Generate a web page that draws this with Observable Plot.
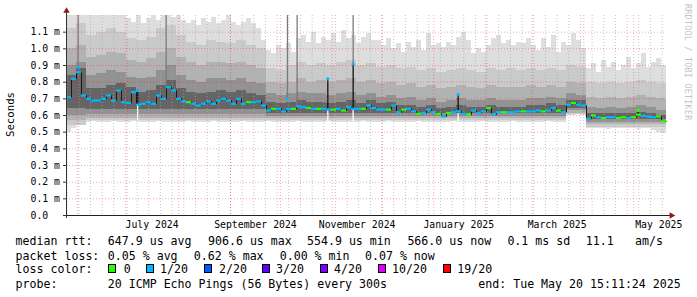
<!DOCTYPE html>
<html><head><meta charset="utf-8">
<script src="https://cdn.jsdelivr.net/npm/d3@7"></script>
<script src="https://cdn.jsdelivr.net/npm/@observablehq/plot@0.6"></script>
<style>
html,body{margin:0;padding:0;background:#fff;}
#chart{position:relative;width:697px;height:297px;overflow:hidden;font-family:"DejaVu Sans Mono",monospace;background:#fff;}
#chart svg{position:absolute;left:0;top:0;}
.lg{position:absolute;font-size:11.6px;line-height:14px;height:14px;white-space:pre;color:#000;}
.box{position:absolute;width:8px;height:9px;box-sizing:border-box;border:1px solid #000;}
.ylab{position:absolute;font-size:10.7px;line-height:12px;writing-mode:vertical-rl;transform:rotate(180deg);color:#000;}
.wm{position:absolute;font-size:8.3px;line-height:9px;writing-mode:vertical-rl;color:#c4c4c4;letter-spacing:0.3px;}
</style></head><body><div id="chart"></div>
<script>
// ---- time frame (rrdtool: 360 days ending at "end") ----
const startTime = "2024-05-25T15:11:24Z";
const endTime = "2025-05-20T15:11:24Z";

// ---- 3-day bins: median RTT (ms), loss colour index, max and min ping (ms) ----
const median = [
0.71,0.82,0.86,0.72,0.70,0.69,0.69,0.70,0.72,0.69,
0.75,0.68,0.675,0.74,0.665,0.67,0.68,0.67,0.72,0.70,
0.77,0.75,0.70,0.685,0.68,0.67,0.66,0.67,0.685,0.67,
0.69,0.70,0.69,0.67,0.70,0.67,0.68,0.68,0.685,0.66,
0.63,0.64,0.64,0.625,0.64,0.64,0.655,0.65,0.645,0.64,
0.64,0.64,0.635,0.635,0.64,0.63,0.65,0.64,0.64,0.64,
0.66,0.645,0.636,0.636,0.635,0.66,0.62,0.635,0.64,0.625,
0.61,0.615,0.635,0.62,0.61,0.595,0.615,0.62,0.625,0.61,
0.606,0.63,0.615,0.625,0.645,0.606,0.62,0.62,0.62,0.62,
0.625,0.625,0.625,0.625,0.63,0.625,0.63,0.645,0.63,0.62,
0.665,0.675,0.665,0.66,0.58,0.60,0.59,0.585,0.59,0.59,
0.585,0.59,0.585,0.59,0.605,0.598,0.594,0.59,0.595,0.565];
const loss = [
1,1,1,1,1,1,1,1,1,1,
1,1,1,1,1,1,1,1,1,1,
1,1,1,1,0,1,1,1,1,1,
1,1,1,1,1,1,0,1,1,1,
1,0,1,1,1,0,1,1,0,1,
0,1,1,0,1,0,1,1,1,0,
1,1,1,1,0,1,1,0,1,1,
0,1,1,1,0,1,0,1,1,1,
0,1,1,1,0,1,1,0,1,1,
1,0,1,1,1,0,1,1,0,1,
1,0,1,1,1,0,1,0,1,1,
0,0,1,0,0,1,1,1,0,0];
const pingMax = [
1.2,1.2,1.2,1.2,1.2,1.2,1.2,1.2,1.2,1.2,
1.2,1.2,1.18,1.16,1.2,1.15,1.18,1.2,1.17,1.2,
1.2,1.19,1.2,1.17,1.15,1.17,1.14,1.18,1.16,1.19,
1.15,1.17,1.2,1.16,1.14,1.16,1.18,1.15,1.12,1.05,
0.99,0.97,1.02,1.0,1.03,0.98,1.06,1.08,1.04,1.1,
1.03,1.07,1.05,1.09,1.04,1.11,1.06,1.08,1.03,1.07,
1.09,1.05,1.05,1.02,1.06,1.0,1.03,0.98,1.04,1.01,
1.05,0.99,1.09,1.02,1.03,1.01,1.04,1.02,1.07,1.1,
1.05,0.97,1.0,0.98,1.02,1.06,1.08,1.03,1.05,1.02,
1.04,1.03,1.06,1.02,0.99,1.06,1.01,1.08,0.98,1.04,
1.02,1.09,1.05,1.0,0.88,0.91,0.86,0.93,0.89,0.92,
0.87,0.9,0.95,0.88,0.91,0.97,0.89,0.92,0.94,0.9];
const pingMin = [
0.50,0.52,0.565,0.56,0.56,0.565,0.56,0.56,0.56,0.565,
0.56,0.56,0.56,0.565,0.56,0.56,0.56,0.56,0.565,0.56,
0.56,0.56,0.56,0.56,0.565,0.56,0.56,0.56,0.56,0.565,
0.56,0.56,0.56,0.56,0.56,0.565,0.56,0.56,0.56,0.56,
0.565,0.56,0.56,0.56,0.56,0.56,0.565,0.56,0.56,0.56,
0.56,0.56,0.565,0.56,0.56,0.56,0.56,0.56,0.56,0.565,
0.56,0.56,0.56,0.56,0.565,0.56,0.56,0.56,0.56,0.56,
0.565,0.56,0.56,0.56,0.56,0.56,0.56,0.565,0.56,0.56,
0.56,0.56,0.56,0.565,0.56,0.56,0.56,0.56,0.56,0.565,
0.56,0.56,0.56,0.56,0.56,0.56,0.565,0.56,0.56,0.56,
0.60,0.60,0.605,0.60,0.52,0.525,0.52,0.52,0.515,0.52,
0.52,0.525,0.52,0.52,0.515,0.52,0.52,0.51,0.50,0.49];

// ---- 6-day bins: upper edges of the inner smoke bands (ms) ----
const smokeU2 = [1.12,1.15,1.08,1.1,1.12,1.1,1.06,1.05,1.07,1.12,1.14,1.08,1.04,1.02,1.05,1.04,1.03,1.05,1.02,1.0,
0.88,0.87,0.9,0.92,0.9,0.91,0.9,0.92,0.93,0.9, 0.91,0.89,0.9,0.88,0.89,0.87,0.88,0.86,0.87,0.88,
0.87,0.86,0.88,0.87,0.88,0.87,0.88,0.87,0.88,0.87, 0.9,0.89,0.8,0.79,0.8,0.79,0.8,0.81,0.8,0.79];
const smokeU3 = [1.0,1.02,0.95,0.96,0.98,0.97,0.93,0.92,0.94,0.98,1.0,0.95,0.92,0.9,0.92,0.92,0.91,0.92,0.9,0.88,
0.8,0.79,0.8,0.82,0.8,0.81,0.8,0.81,0.82,0.8, 0.81,0.79,0.8,0.78,0.79,0.77,0.78,0.76,0.77,0.78,
0.77,0.76,0.78,0.77,0.77,0.77,0.78,0.77,0.78,0.77, 0.8,0.79,0.71,0.7,0.71,0.7,0.71,0.72,0.71,0.7];
const smokeU4 = [0.9,0.92,0.84,0.85,0.87,0.86,0.83,0.82,0.83,0.87,0.9,0.84,0.81,0.8,0.82,0.82,0.81,0.82,0.8,0.79,
0.73,0.72,0.73,0.74,0.73,0.73,0.72,0.73,0.74,0.72, 0.73,0.71,0.72,0.7,0.71,0.69,0.7,0.68,0.69,0.7,
0.69,0.69,0.7,0.69,0.69,0.69,0.7,0.7,0.71,0.7, 0.73,0.72,0.65,0.64,0.65,0.64,0.65,0.66,0.65,0.63];
const smokeU5 = [0.84,0.88,0.76,0.76,0.78,0.79,0.77,0.74,0.75,0.78,0.81,0.76,0.74,0.73,0.74,0.75,0.74,0.75,0.73,0.72,
0.68,0.67,0.68,0.69,0.68,0.68,0.67,0.68,0.69,0.67, 0.69,0.67,0.68,0.66,0.66,0.65,0.66,0.64,0.65,0.66,
0.65,0.65,0.66,0.65,0.65,0.65,0.66,0.66,0.67,0.66, 0.69,0.69,0.61,0.61,0.61,0.61,0.61,0.62,0.61,0.6];
// ---- 12-day bins: lower edges of the inner smoke bands (ms) ----
const smokeL2 = [0.54,0.572,0.572,0.572,0.572,0.572,0.572,0.572,0.572,0.572,0.57,0.57,0.57,0.57,0.57,0.57,0.57,0.57,0.57,0.57,0.57,0.57,0.57,0.57,0.57,0.605,0.53,0.53,0.53,0.53];
const smokeL3 = [0.57,0.585,0.585,0.585,0.585,0.585,0.585,0.585,0.585,0.585,0.58,0.58,0.58,0.58,0.58,0.58,0.58,0.58,0.58,0.58,0.58,0.58,0.58,0.58,0.58,0.615,0.545,0.545,0.545,0.545];
const smokeL4 = [0.60,0.605,0.605,0.605,0.605,0.605,0.605,0.605,0.605,0.605,0.595,0.595,0.595,0.595,0.595,0.595,0.595,0.595,0.595,0.595,0.595,0.595,0.595,0.595,0.595,0.63,0.56,0.56,0.56,0.56];
const smokeL5 = [0.64,0.635,0.635,0.635,0.635,0.635,0.635,0.635,0.635,0.635,0.61,0.61,0.61,0.61,0.61,0.61,0.61,0.61,0.61,0.61,0.61,0.61,0.61,0.61,0.61,0.645,0.575,0.575,0.575,0.575];

// ---- single-row spikes ----
const spikeDate = ["2024-06-01T15:40Z","2024-07-07T08:00Z","2024-07-24T10:00Z","2024-10-05T05:00Z","2024-10-11T00:00Z","2024-10-29T10:00Z","2024-11-13T15:00Z","2025-01-15T15:00Z","2025-05-03T15:00Z"];
const spikeBase = [0.89,0.665,0.77,0.70,0.65,0.64,0.64,0.625,0.60];
const spikeDark = [0.89,0.75,0.77,0.70,0.65,0.82,0.91,0.726,0.63];
const spikeTop  = [1.2,0.75,1.2,1.2,1.2,0.82,1.2,0.726,0.63];
const spikeMed  = [0.89,0.75,null,0.70,null,0.82,0.91,0.726,0.63];
const spikeLoss = [1,1,1,1,1,1,1,1,0];
const spikeGapLow  = [null,0.56,null,null,null,0.56,0.56,0.56,null];
const spikeGapHigh = [null,0.665,null,null,null,0.63,0.63,0.61,null];

// ---- axes / legend text ----
const yTicks = [0,0.1,0.2,0.3,0.4,0.5,0.6,0.7,0.8,0.9,1.0,1.1];
const yTickLabels = ["0.0","0.1 m","0.2 m","0.3 m","0.4 m","0.5 m","0.6 m","0.7 m","0.8 m","0.9 m","1.0 m","1.1 m"];
const xLabelDates = ["2024-07-16","2024-09-16","2024-11-16","2025-01-16","2025-03-16","2025-05-16"];
const xLabels = ["July 2024","September 2024","November 2024","January 2025","March 2025","May 2025"];
const lossColors = ["#26ff00","#00b8ff","#0059ff","#5e00ff","#7e00ff","#dd00ff","#ff0000"];
const lossLabels = ["0","1/20","2/20","3/20","4/20","10/20","19/20"];
const rttText = ["median rtt:","647.9 us avg","906.6 us max","554.9 us min","566.0 us now","0.1 ms sd","11.1","am/s"];
const lossText = ["packet loss:","0.05 % avg","0.62 % max","0.00 % min","0.07 % now"];
const probeText = ["probe:","20 ICMP Echo Pings (56 Bytes) every 300s","end: Tue May 20 15:11:24 2025"];
const yAxisTitle = "Seconds";
const watermark = "RRDTOOL / TOBI OETIKER";

// ---- build tables ----
const t0 = new Date(startTime), t1 = new Date(endTime);
const bins = median.map((m, i) => ({
  x1: d3.utcDay.offset(t0, 3 * i), x2: d3.utcDay.offset(t0, 3 * i + 3),
  med: m, loss: loss[i], hi: pingMax[i], lo: pingMin[i]
}));
const bands = smokeU2.map((u, j) => {
  const k = Math.floor(j / 2);
  return {x1: d3.utcDay.offset(t0, 6 * j), x2: d3.utcDay.offset(t0, 6 * j + 6),
    u2: u, u3: smokeU3[j], u4: smokeU4[j], u5: smokeU5[j],
    l2: smokeL2[k], l3: smokeL3[k], l4: smokeL4[k], l5: smokeL5[k]};
});
const medLine = bins.map(b => ({x: b.x1, y: b.med})).concat([{x: t1, y: median[median.length - 1]}]);
const spikes = spikeDate.map((d, i) => ({date: new Date(d), base: spikeBase[i], dark: spikeDark[i], top: spikeTop[i],
  med: spikeMed[i], loss: spikeLoss[i], gLo: spikeGapLow[i], gHi: spikeGapHigh[i]}));
const monthLines = d3.utcMonth.range(t0, t1);
const weekLines = d3.utcSunday.range(t0, t1);
const yGrid = yTicks.filter(v => v > 0);

const crisp = {shapeRendering: "crispEdges"};
const plot = Plot.plot({
  width: 697, height: 297,
  marginLeft: 66, marginRight: 31, marginTop: 15, marginBottom: 82,
  x: {type: "utc", domain: [t0, t1], axis: null},
  y: {domain: [0, 1.2], axis: null},
  style: {fontFamily: "DejaVu Sans Mono", fontSize: "9.8px", background: "transparent", color: "#000"},
  marks: [
    Plot.rect(bins, {x1: "x1", x2: "x2", y1: "lo", y2: "hi", fill: "#dedede", ...crisp}),
    Plot.rect(bands, {x1: "x1", x2: "x2", y1: "l2", y2: "u2", fill: "#cacaca", ...crisp}),
    Plot.rect(bands, {x1: "x1", x2: "x2", y1: "l3", y2: "u3", fill: "#b2b2b2", ...crisp}),
    Plot.rect(bands, {x1: "x1", x2: "x2", y1: "l4", y2: "u4", fill: "#929292", ...crisp}),
    Plot.rect(bands, {x1: "x1", x2: "x2", y1: "l5", y2: "u5", fill: "#656565", ...crisp}),
    Plot.ruleX(spikes.filter(d => d.top > d.dark), {x: "date", y1: "dark", y2: "top", stroke: "#7a7a7a", strokeWidth: 1.3}),
    Plot.ruleX(spikes.filter(d => d.dark > d.base), {x: "date", y1: "base", y2: "dark", stroke: "#111", strokeWidth: 1.3}),
    Plot.ruleX(spikes.filter(d => d.gLo != null), {x: "date", y1: "gLo", y2: "gHi", stroke: "#fff", strokeWidth: 1.3}),
    // grid
    Plot.ruleX(weekLines, {x: d => d, stroke: "#a8a8a8", strokeOpacity: 0.7, strokeDasharray: "1,2"}),
    Plot.ruleX(monthLines, {x: d => d, stroke: "#ff0000", strokeOpacity: 0.35, strokeDasharray: "1,2"}),
    Plot.ruleY(yGrid, {y: d => d, stroke: "#ff0000", strokeOpacity: 0.35, strokeDasharray: "1,2"}),
    // median
    Plot.line(medLine, {x: "x", y: "y", curve: "step-after", stroke: "#1a1a1a", strokeWidth: 1}),
    Plot.ruleY(bins, {x1: "x1", x2: "x2", y: "med", stroke: d => lossColors[d.loss], strokeWidth: 2.2}),
    Plot.dot(spikes.filter(d => d.med != null), {x: "date", y: "med", symbol: "square", r: 1.6, fill: d => lossColors[d.loss], stroke: null}),
    // axes
    Plot.ruleY([0], {y: d => d, stroke: "#222", insetLeft: -3, insetRight: -4}),
    Plot.ruleX([t0], {x: d => d, stroke: "#333", insetTop: -4, insetBottom: -3}),
    Plot.axisY(yTicks, {tickSize: 3, tickFormat: () => "", stroke: "#333"}),
    Plot.dot([t0], {x: d => d, y: () => 1.2, dy: -4.5, symbol: "triangle", r: 2.4, fill: "#8b1a1a", stroke: null}),
    Plot.dot([t1], {x: d => d, y: () => 0, dx: 5, rotate: 90, symbol: "triangle", r: 2.4, fill: "#8b1a1a", stroke: null}),
    Plot.text(yTicks, {y: d => d, text: (d, i) => yTickLabels[i], frameAnchor: "left", dx: -36, textAnchor: "start", lineAnchor: "middle", fill: "#000"}),
    Plot.text(xLabelDates, {x: d => new Date(d), text: (d, i) => xLabels[i], frameAnchor: "bottom", dy: 9.6, lineAnchor: "middle", fill: "#000"})
  ]
});
const chart = document.getElementById("chart");
chart.appendChild(plot);

// ---- legend & side texts (HTML) ----
function addText(txt, x, cy, cls) {
  const s = document.createElement("div");
  s.className = cls || "lg";
  s.textContent = txt;
  s.style.left = x + "px";
  s.style.top = (cy - 7) + "px";
  chart.appendChild(s);
  return s;
}
const rttX = [15.6, 107.8, 208, 307, 407.4, 507.4, 585.7, 635];
rttText.forEach((t, i) => addText(t, rttX[i], 241.4));
const lossX = [15.6, 107.8, 193.8, 279.7, 365];
lossText.forEach((t, i) => addText(t, lossX[i], 255.5));
addText("loss color:", 15.6, 269);
const boxX = [108.2, 145.7, 204, 262, 320, 377.7, 442.7];
const boxLabelX = [123.8, 160, 219, 276, 334, 392, 457.3];
lossColors.forEach((c, i) => {
  const b = document.createElement("div");
  b.className = "box";
  b.style.left = boxX[i] + "px";
  b.style.top = (269 - 4.6) + "px";
  b.style.background = c;
  chart.appendChild(b);
  addText(lossLabels[i], boxLabelX[i], 269);
});
const probeX = [15.6, 107.8, 478.3];
probeText.forEach((t, i) => addText(t, probeX[i], 283.8));

const yl = document.createElement("div");
yl.className = "ylab"; yl.textContent = yAxisTitle;
yl.style.left = "4.5px"; yl.style.top = "92px";
chart.appendChild(yl);
const wm = document.createElement("div");
wm.className = "wm"; wm.textContent = watermark;
wm.style.left = "683px"; wm.style.top = "4px";
chart.appendChild(wm);
</script></body></html>
